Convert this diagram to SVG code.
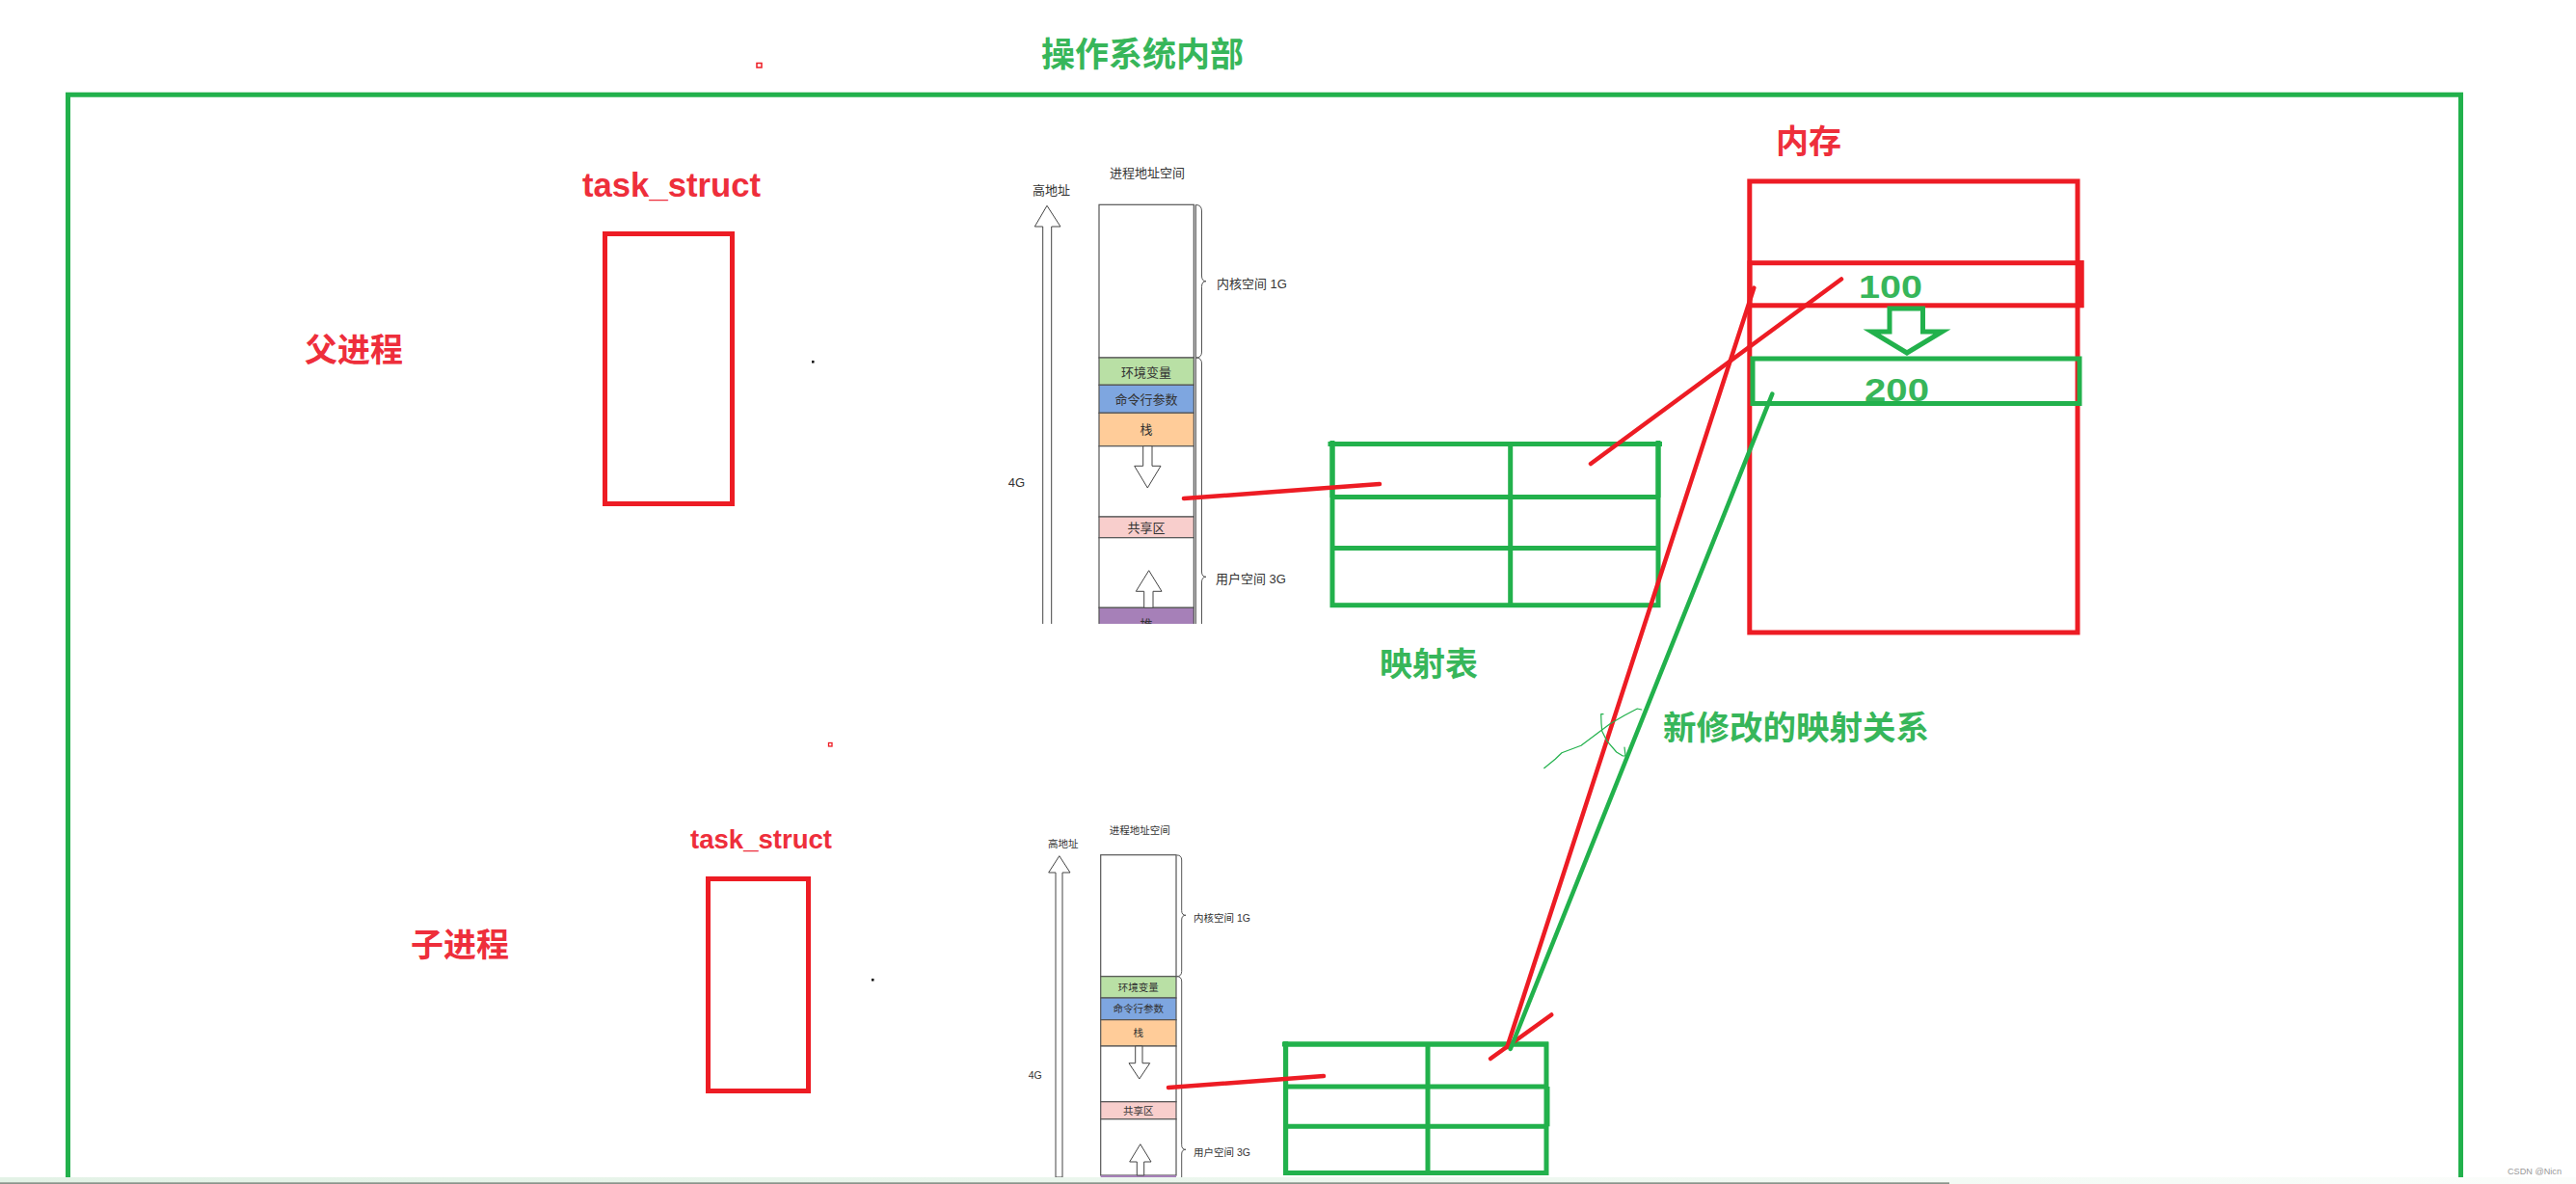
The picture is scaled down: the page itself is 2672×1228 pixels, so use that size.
<svg xmlns="http://www.w3.org/2000/svg" width="2672" height="1228" viewBox="0 0 2672 1228">
<style>
  .frame{fill:none;stroke:#22b14c;stroke-width:5}
  .rbox{fill:none;stroke:#ed1c24;stroke-width:5}
  .gbox{fill:none;stroke:#22b14c;stroke-width:5}
  .rl{fill:none;stroke:#ed1c24;stroke-width:4.5;stroke-linecap:round}
  .gl{fill:none;stroke:#22b14c;stroke-width:4.5;stroke-linecap:round}
  .thin{fill:none;stroke:#22b14c;stroke-width:1.2;stroke-linecap:round;stroke-linejoin:round}
  .tr{fill:#ee2e3b;font-family:"Liberation Sans","Noto Sans CJK SC",sans-serif;font-weight:bold}
  .tg{fill:#37b65a;font-family:"Liberation Sans","Noto Sans CJK SC",sans-serif;font-weight:bold}
  .td{fill:#333;font-family:"Liberation Sans","Noto Sans CJK SC",sans-serif}
  .seg{stroke:#555;stroke-width:1.2}
  .harrow{fill:#fff;stroke:#444;stroke-width:1}
  .brace{fill:none;stroke:#555;stroke-width:1}
</style>
<defs>
  <clipPath id="clipTop"><rect x="1000" y="100" width="400" height="547"/></clipPath>
  <linearGradient id="strip" x1="0" y1="0" x2="1" y2="0">
    <stop offset="0" stop-color="#e3f2e6"/>
    <stop offset="0.6" stop-color="#eef8f0"/>
    <stop offset="1" stop-color="#fbfdfb"/>
  </linearGradient>
</defs>
<rect x="0" y="0" width="2672" height="1228" fill="#fff"/>

<g id="os-frame">
  <path class="frame" d="M70.5,1221 V98.3 H2552.5 V1221"/>
  <text class="tg" x="1080" y="69" font-size="35">操作系统内部</text>
</g>

<g id="marks">
  <rect x="785" y="65.5" width="5" height="4.5" fill="#fff" stroke="#ed1c24" stroke-width="1.5"/>
  <rect x="859.5" y="770.5" width="3.5" height="3.5" fill="#fff" stroke="#ed1c24" stroke-width="1.3"/>
  <rect x="842" y="374" width="2.5" height="2.5" fill="#000"/>
  <rect x="904" y="1015" width="2.5" height="2.5" fill="#000"/>
</g>

<g id="parent-label"><text class="tr" x="316" y="375" font-size="34">父进程</text></g>
<g id="parent-task-struct">
  <text class="tr" x="604" y="204" font-size="34.5" textLength="185" lengthAdjust="spacingAndGlyphs">task_struct</text>
  <rect class="rbox" x="627.5" y="242.5" width="132" height="280"/>
</g>

<g id="child-label"><text class="tr" x="426" y="992" font-size="34">子进程</text></g>
<g id="child-task-struct">
  <text class="tr" x="716" y="880" font-size="28" textLength="147" lengthAdjust="spacingAndGlyphs">task_struct</text>
  <rect class="rbox" x="734.5" y="911.5" width="104" height="220"/>
</g>

<g id="parent-address-space" clip-path="url(#clipTop)">
  <text class="td" x="1151" y="183.5" font-size="13">进程地址空间</text>
  <text class="td" x="1071" y="201.5" font-size="13">高地址</text>
  <polygon class="harrow" points="1086,213.3 1100,235 1090.7,235 1090.7,660 1081.7,660 1081.7,235 1073.3,235"/>
  <text class="td" x="1045.7" y="505" font-size="13">4G</text>
  <rect class="seg" x="1140" y="212.3" width="98.3" height="158.7" fill="#fff"/>
  <rect class="seg" x="1140" y="371" width="98.3" height="28.3" fill="#b9e0a5"/>
  <rect class="seg" x="1140" y="399.3" width="98.3" height="29" fill="#7ea6e0"/>
  <rect class="seg" x="1140" y="428.3" width="98.3" height="34.4" fill="#ffcc99"/>
  <rect class="seg" x="1140" y="462.7" width="98.3" height="73.3" fill="#fff"/>
  <rect class="seg" x="1140" y="536" width="98.3" height="21.7" fill="#f8cecc"/>
  <rect class="seg" x="1140" y="557.7" width="98.3" height="72.6" fill="#fff"/>
  <rect class="seg" x="1140" y="630.3" width="98.3" height="40" fill="#a680b8"/>
  <line class="seg" x1="1240.3" y1="212.3" x2="1240.3" y2="660"/>
  <polygon class="harrow" points="1185.7,462.7 1195,462.7 1195,483.3 1204,483.3 1190.3,506 1176.7,483.3 1185.7,483.3"/>
  <polygon class="harrow" points="1191.7,591.7 1205,613.3 1196,613.3 1196,630.3 1186.7,630.3 1186.7,613.3 1178.3,613.3"/>
  <g class="td" font-size="13" text-anchor="middle">
    <text x="1189" y="390.5">环境变量</text>
    <text x="1189" y="419">命令行参数</text>
    <text x="1189" y="450">栈</text>
    <text x="1189" y="552">共享区</text>
    <text x="1189" y="651.5">堆</text>
  </g>
  <path class="brace" d="M1240.5,212.5 Q1246.5,212.5 1246.5,219 V286 Q1246.5,291.7 1251,291.7 Q1246.5,291.7 1246.5,297.5 V365 Q1246.5,371 1240.5,371"/>
  <path class="brace" d="M1240.5,371 Q1246.5,371 1246.5,377 V593 Q1246.5,598.3 1251,598.3 Q1246.5,598.3 1246.5,604 V660"/>
  <text class="td" x="1262" y="298.5" font-size="13">内核空间 1G</text>
  <text class="td" x="1261" y="605" font-size="13">用户空间 3G</text>
</g>

<g id="child-address-space">
  <text class="td" x="1150.7" y="865" font-size="10.5">进程地址空间</text>
  <text class="td" x="1087" y="879" font-size="10.5">高地址</text>
  <polygon class="harrow" points="1098.8,887.7 1110,905 1102,905 1102,1221 1095,1221 1095,905 1087.7,905"/>
  <text class="td" x="1066.7" y="1118.5" font-size="10.5">4G</text>
  <rect class="seg" x="1141.7" y="886.7" width="78.3" height="126" fill="#fff"/>
  <rect class="seg" x="1141.7" y="1012.7" width="78.3" height="22.3" fill="#b9e0a5"/>
  <rect class="seg" x="1141.7" y="1035" width="78.3" height="22.7" fill="#7ea6e0"/>
  <rect class="seg" x="1141.7" y="1057.7" width="78.3" height="27.3" fill="#ffcc99"/>
  <rect class="seg" x="1141.7" y="1085" width="78.3" height="57.7" fill="#fff"/>
  <rect class="seg" x="1141.7" y="1142.7" width="78.3" height="18" fill="#f8cecc"/>
  <rect class="seg" x="1141.7" y="1160.7" width="78.3" height="58.3" fill="#fff"/>
  <rect x="1141.7" y="1219" width="78.3" height="2" fill="#a680b8"/>
  <polygon class="harrow" points="1177.7,1085 1185,1085 1185,1102.7 1192.7,1102.7 1181.8,1119 1171,1102.7 1177.7,1102.7"/>
  <polygon class="harrow" points="1182.8,1186.7 1194,1205 1186.7,1205 1186.7,1219 1179.3,1219 1179.3,1205 1171.7,1205"/>
  <g class="td" font-size="10.5" text-anchor="middle">
    <text x="1180.8" y="1028">环境变量</text>
    <text x="1180.8" y="1050">命令行参数</text>
    <text x="1180.8" y="1075">栈</text>
    <text x="1180.8" y="1155.5">共享区</text>
  </g>
  <path class="brace" d="M1220.5,886.9 Q1225.7,886.9 1225.7,892 V944.5 Q1225.7,949.3 1230,949.3 Q1225.7,949.3 1225.7,954 V1007.5 Q1225.7,1012.7 1220.5,1012.7"/>
  <path class="brace" d="M1220.5,1012.7 Q1225.7,1012.7 1225.7,1018 V1187.5 Q1225.7,1192.3 1230,1192.3 Q1225.7,1192.3 1225.7,1197 V1221"/>
  <text class="td" x="1238" y="955.5" font-size="10.5">内核空间 1G</text>
  <text class="td" x="1238" y="1198.5" font-size="10.5">用户空间 3G</text>
</g>

<g id="parent-mapping-table">
  <rect class="gbox" x="1382" y="460.5" width="338" height="167.2" stroke-width="6"/>
  <line class="gbox" x1="1377.5" y1="460.5" x2="1724" y2="460.5" stroke-width="8"/>
  <line class="gbox" x1="1382" y1="457" x2="1382" y2="516" stroke-width="9"/>
  <line class="gbox" x1="1382" y1="515.5" x2="1722" y2="515.5" stroke-width="5.2"/>
  <line class="gbox" x1="1382" y1="568.5" x2="1720" y2="568.5" stroke-width="4.5"/>
  <line class="gbox" x1="1566.7" y1="460.5" x2="1566.7" y2="627.7" stroke-width="5.5"/>
  <line class="gbox" x1="1720" y1="457" x2="1720" y2="516" stroke-width="7.5"/>
</g>
<g id="mapping-table-label"><text class="tg" x="1431" y="701" font-size="34">映射表</text></g>

<g id="child-mapping-table">
  <rect class="gbox" x="1333.6" y="1083" width="270.4" height="133.5" stroke-width="5.5"/>
  <line class="gbox" x1="1330" y1="1083" x2="1606" y2="1083" stroke-width="7.5"/>
  <line class="gbox" x1="1333.6" y1="1080" x2="1333.6" y2="1219" stroke-width="7"/>
  <line class="gbox" x1="1333.6" y1="1127" x2="1606" y2="1127" stroke-width="5"/>
  <line class="gbox" x1="1333.6" y1="1168.3" x2="1606" y2="1168.3" stroke-width="4.6"/>
  <line class="gbox" x1="1481" y1="1083" x2="1481" y2="1216.5" stroke-width="4"/>
  <line class="gbox" x1="1605" y1="1127" x2="1605" y2="1168.3" stroke-width="5"/>
</g>

<g id="memory">
  <text class="tr" x="1842" y="159" font-size="34">内存</text>
  <rect class="rbox" x="1814.8" y="188" width="340.2" height="468" stroke-width="5.5"/>
  <rect class="rbox" x="1815" y="272.7" width="344" height="44.1"/>
  <line class="rbox" x1="2159" y1="270" x2="2159" y2="319" stroke-width="6"/>
  <text class="tg" x="1928" y="308.6" font-size="34" textLength="66" lengthAdjust="spacingAndGlyphs">100</text>
  <polygon class="gbox" points="1960,320 1994.5,320 1994.5,344 2014.5,344 1978,366 1941.5,344 1960,344" stroke-width="5" stroke-linejoin="miter"/>
  <rect class="gbox" x="1818" y="372" width="339" height="46.5" stroke-width="5"/>
  <text class="tg" x="1934" y="415.7" font-size="34" textLength="67" lengthAdjust="spacingAndGlyphs">200</text>
</g>

<g id="new-mapping-label"><text class="tg" x="1725" y="766.5" font-size="34.5">新修改的映射关系</text></g>

<g id="connectors">
  <line class="rl" x1="1228" y1="517" x2="1431" y2="502"/>
  <line class="rl" x1="1650" y1="481" x2="1910" y2="289.5" stroke-width="4"/>
  <line class="rl" x1="1819.3" y1="298.6" x2="1563.3" y2="1086" stroke-width="5"/>
  <line class="rl" x1="1546" y1="1098" x2="1609.3" y2="1052.5" stroke-width="4"/>
  <line class="rl" x1="1212" y1="1128" x2="1373" y2="1116" stroke-width="4"/>
  <line class="gl" x1="1838.3" y1="408.6" x2="1566.7" y2="1088" stroke-width="4.5"/>
  <path class="thin" d="M1601.7,796.7 L1613.3,787.3 L1620,780.7 L1640,773.3 L1655,762 L1670,750.7 L1685,742 L1698.3,735 L1702.7,736"/>
  <path class="thin" d="M1663,740.7 L1660.7,740.7 L1661,750 L1661.7,758.3 L1666.7,768.3 L1676.7,780 L1683.3,784 L1686,784 L1685,775"/>
</g>

<g id="bottom-strip">
  <rect x="0" y="1221" width="2672" height="7" fill="url(#strip)"/>
  <rect x="0" y="1226.3" width="2022" height="1.7" fill="#8a948b"/>
  <text x="2601" y="1218" font-size="9.5" fill="#999" font-family="Liberation Sans, sans-serif" textLength="56" lengthAdjust="spacingAndGlyphs">CSDN @Nicn</text>
</g>
</svg>
